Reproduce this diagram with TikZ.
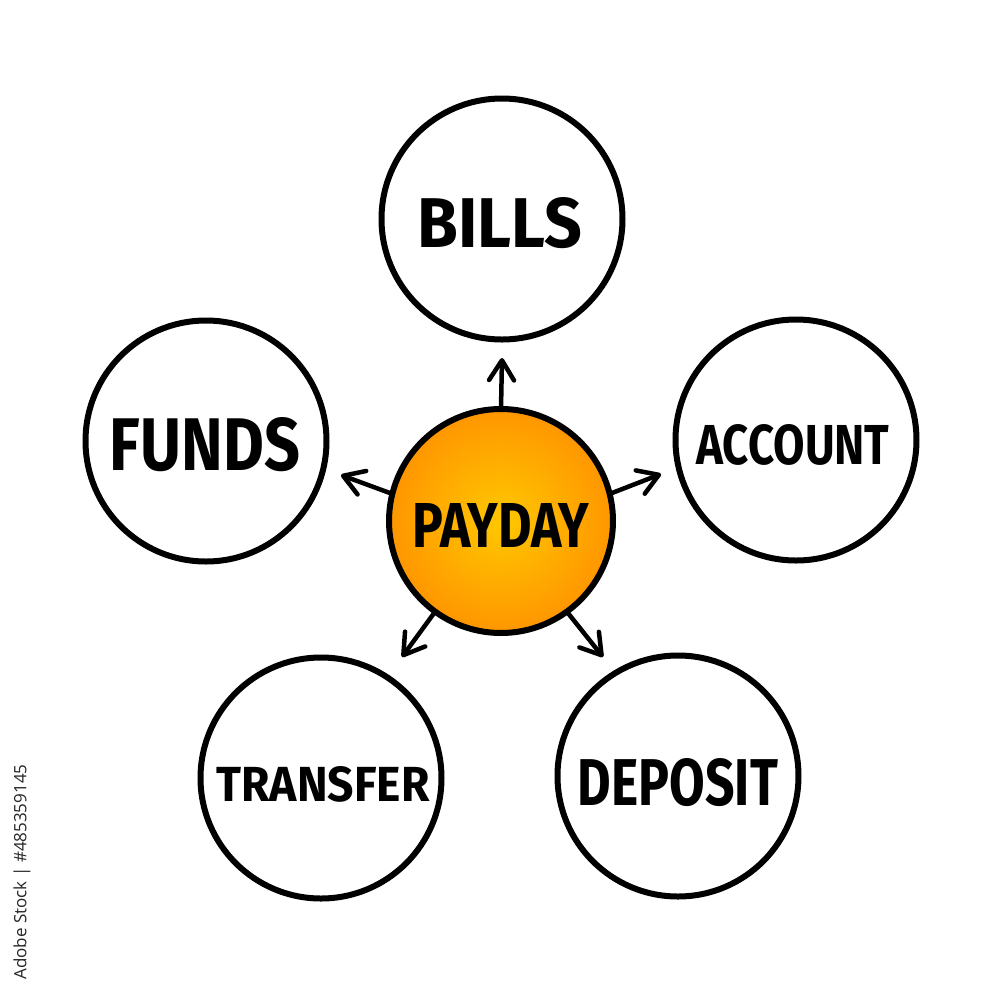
\documentclass[tikz,border=0pt]{standalone}
\usepackage{fontspec}
\setmainfont{Fira Sans}
\newfontfamily\wmfont{Open Sans}
\usetikzlibrary{arrows.meta}
\definecolor{payin}{HTML}{FFC800}
\definecolor{payout}{HTML}{FF9600}
\pgfdeclareradialshading{paydayshade}{\pgfpoint{0bp}{0bp}}{color(0bp)=(payin); color(25bp)=(payout); color(50bp)=(payout)}
\tikzset{
  bub/.style={circle, draw=black, line width=0.6mm, minimum size=24.1mm, inner sep=0pt, outer sep=0pt, fill=white},
  hub/.style={circle, draw=black, line width=0.6mm, minimum size=22.4mm, inner sep=0pt, outer sep=0pt, shading=paydayshade},
  lbl/.style={inner sep=0pt, font=\bfseries},
  arr/.style={line width=0.45mm, line cap=round, -{Straight Barb[length=2mm, width=2.5mm, line cap=round, line join=round]}}
}
\begin{document}
\begin{tikzpicture}[x=0.1mm, y=-0.1mm]
\fill[white] (0,0) rectangle (1000,1000);
\useasboundingbox (0,0) rectangle (1000,1000);

\node[hub] (payday) at (501,521) {};
\node[bub] (bills) at (502,219) {};
\node[bub] (funds) at (206,441) {};
\node[bub] (account) at (796,440) {};
\node[bub] (transfer) at (321,778) {};
\node[bub] (deposit) at (678,776) {};

\node[lbl] (paydayt) at (501,525) {\resizebox{17.7mm}{4.4mm}{PAYDAY}};
\node[lbl] (billst) at (500,223) {\resizebox{16.5mm}{5.0mm}{BILLS}};
\node[lbl] (fundst) at (205,445) {\resizebox{19.0mm}{5.3mm}{FUNDS}};
\node[lbl] (accountt) at (793,445) {\resizebox{19.3mm}{4.0mm}{ACCOUNT}};
\node[lbl] (transfert) at (323,784) {\resizebox{21.3mm}{3.5mm}{TRANSFER}};
\node[lbl] (depositt) at (678,783) {\resizebox{20.0mm}{4.7mm}{DEPOSIT}};

\coordinate (tbills) at (502,358);
\coordinate (tfunds) at (341,475);
\coordinate (taccount) at (661,474);
\coordinate (ttransfer) at (402,657);
\coordinate (tdeposit) at (603,657);

\draw[arr] (payday.90) -- (tbills);
\draw[arr] (payday.166) -- (tfunds);
\draw[arr] (payday.14) -- (taccount);
\draw[arr] (payday.234) -- (ttransfer);
\draw[arr] (payday.306) -- (tdeposit);

\node[rotate=90, text=black!85, inner sep=0pt, font=\wmfont] (wm) at (22,872) {\resizebox{21.5mm}{!}{Adobe Stock | \#485359145}};
\end{tikzpicture}
\end{document}
